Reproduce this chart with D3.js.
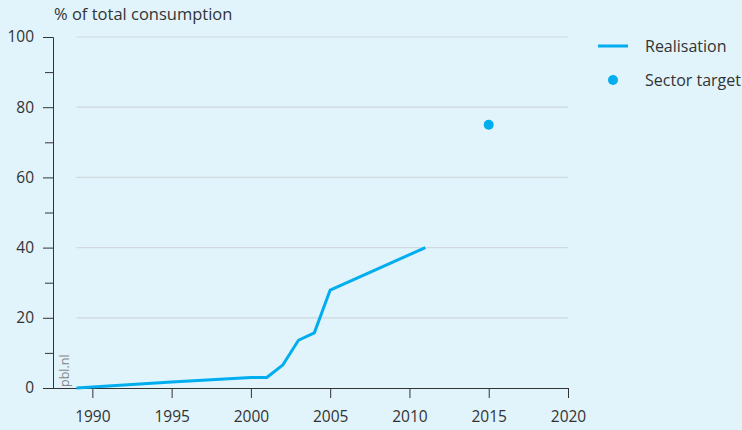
<!DOCTYPE html>
<html><head><meta charset="utf-8">
<script src="https://cdn.jsdelivr.net/npm/d3@7"></script>
<style>
html,body{margin:0;padding:0;background:#e1f3fb;}
svg{display:block;font-family:"Open Sans",sans-serif;}
</style></head>
<body><svg id="c" width="742" height="430"></svg>
<script>
const years = [1989, 1995, 2000, 2001, 2002, 2003, 2004, 2005, 2011];
const realisation = [0, 1.7, 3.0, 3.0, 6.5, 13.6, 15.7, 27.9, 40];
const targetYear = [2015];
const targetValue = [75];
const xTicks = [1990, 1995, 2000, 2005, 2010, 2015, 2020];
const yTicks = [0, 20, 40, 60, 80, 100];
const yMinor = [10, 30, 50, 70, 90];

const svg = d3.select("#c");
svg.append("rect").attr("width",742).attr("height",430).attr("fill","#e1f3fb");
const x = d3.scaleLinear().domain([1989, 2020]).range([76.5, 568]);
const y = d3.scaleLinear().domain([0, 100]).range([388, 37]);
const textCol = "#333";
const fs = 15.5;

// gridlines
svg.append("g").selectAll("line").data(yTicks.filter(d=>d>0)).join("line")
  .attr("x1", x(1989)).attr("x2", x(2020))
  .attr("y1", d=>y(d)).attr("y2", d=>y(d))
  .attr("stroke", "#cfd9de").attr("stroke-width", 1.2);

// y axis
const yAxis = svg.append("g").attr("transform","translate(53,0)")
  .call(d3.axisLeft(y).tickValues(yTicks).tickSize(10).tickPadding(9));
yAxis.selectAll(".tick line").attr("stroke", textCol);
svg.append("g").attr("transform","translate(53,0)")
  .call(d3.axisLeft(y).tickValues(yMinor).tickSize(8).tickFormat(""))
  .call(g=>g.select(".domain").remove())
  .selectAll(".tick line").attr("stroke", textCol);
yAxis.select(".domain").attr("stroke", textCol).attr("d","M-10,37.5H0.5V388.5");
yAxis.selectAll("text").attr("font-size", fs).attr("fill", textCol).attr("font-family","Open Sans, sans-serif");

// x axis
const xAxis = svg.append("g").attr("transform","translate(0,388)")
  .call(d3.axisBottom(x).tickValues(xTicks).tickFormat(d3.format("d")).tickSize(10).tickPadding(13));
xAxis.select(".domain").attr("stroke", textCol).attr("d", `M43,0.5H${x(2020)}`);
xAxis.selectAll(".tick line").attr("stroke", textCol);
xAxis.selectAll("text").attr("font-size", fs).attr("fill", textCol).attr("font-family","Open Sans, sans-serif");

// title
svg.append("text").attr("x", 54).attr("y", 20).attr("font-size", 16.5).attr("fill", textCol).text("% of total consumption");

// pbl.nl
svg.append("text").attr("transform", "translate(69,387) rotate(-90)")
  .attr("font-size", 12.5).attr("fill", "#888").text("pbl.nl");

// line
const lineGen = d3.line().x((d,i)=>x(years[i])).y(d=>y(d));
svg.append("path").datum(realisation).attr("d", lineGen)
  .attr("fill","none").attr("stroke","#00aeef").attr("stroke-width",3)
  .attr("stroke-linejoin","round");

// target
svg.append("g").selectAll("circle").data(targetValue).join("circle")
  .attr("cx",(d,i)=>x(targetYear[i])).attr("cy", d=>y(d)).attr("r",5)
  .attr("fill","#00aeef");

// legend
svg.append("line").attr("x1",598).attr("x2",628).attr("y1",46).attr("y2",46)
  .attr("stroke","#00aeef").attr("stroke-width",3);
svg.append("text").attr("x",645).attr("y",52).attr("font-size",16).attr("fill",textCol).text("Realisation");
svg.append("circle").attr("cx",613).attr("cy",80).attr("r",5).attr("fill","#00aeef");
svg.append("text").attr("x",645).attr("y",86).attr("font-size",16).attr("fill",textCol).text("Sector target");
</script></body></html>
